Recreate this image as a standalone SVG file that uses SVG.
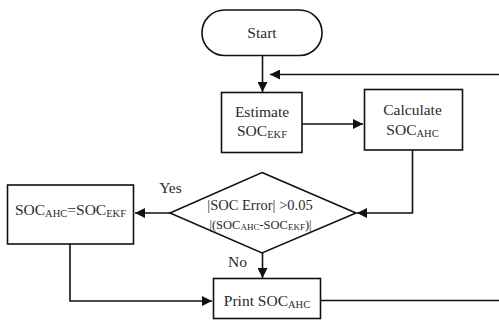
<svg xmlns="http://www.w3.org/2000/svg" width="499" height="320" viewBox="0 0 499 320" font-family="'Liberation Serif', 'DejaVu Serif', serif">
<style>
.shape{fill:#fff;stroke:#111;stroke-width:1.6}
.conn{fill:none;stroke:#111;stroke-width:1.6}
text{font-family:'Liberation Serif','DejaVu Serif',serif;font-size:15.5px;fill:#2a2a2a;text-anchor:middle}
.sub{font-size:10.5px}
.sub2{font-size:9px}
.d1{font-size:14.5px}
.d2{font-size:12.5px}
</style>
<defs>
<marker id="ah" viewBox="0 0 10 10" refX="10" refY="5" markerWidth="10" markerHeight="10" markerUnits="userSpaceOnUse" orient="auto">
<path d="M0,0 L10,5 L0,10 Z" fill="#111"/>
</marker>
</defs>
<rect width="499" height="320" fill="#fff"/>
<g id="connectors">
<line class="conn" x1="262.5" y1="56" x2="262.5" y2="92" marker-end="url(#ah)"/>
<line class="conn" x1="499" y1="74.5" x2="270" y2="74.5" marker-end="url(#ah)"/>
<line class="conn" x1="302" y1="124" x2="363" y2="124" marker-end="url(#ah)"/>
<polyline class="conn" points="412.5,150 412.5,213 357,213" marker-end="url(#ah)"/>
<line class="conn" x1="170" y1="213" x2="135" y2="213" marker-end="url(#ah)"/>
<line class="conn" x1="262.5" y1="253" x2="262.5" y2="278" marker-end="url(#ah)"/>
<polyline class="conn" points="70,244 70,301 212,301" marker-end="url(#ah)"/>
<line class="conn" x1="320.5" y1="300.5" x2="499" y2="300.5"/>
<text x="170.5" y="193">Yes</text>
<text x="237.5" y="266.5">No</text>
</g>
<g id="start">
<rect class="shape" x="202" y="10" width="120" height="45.5" rx="22.5"/>
<text x="262" y="38">Start</text>
</g>
<g id="estimate">
<rect class="shape" x="221.5" y="92.5" width="80.5" height="60"/>
<text x="262" y="116.5">Estimate</text>
<text x="262" y="135.5">SOC<tspan class="sub" dy="2">EKF</tspan></text>
</g>
<g id="calculate">
<rect class="shape" x="364.5" y="89.5" width="98" height="60.5"/>
<text x="412.5" y="115">Calculate</text>
<text x="412.5" y="134.5">SOC<tspan class="sub" dy="2">AHC</tspan></text>
</g>
<g id="decision">
<polygon class="shape" points="262,172.5 356,213 262,253 170,213"/>
<text class="d1" x="260" y="209.5">|SOC Error| &gt;0.05</text>
<text class="d2" x="260.5" y="228.5">|(SOC<tspan class="sub2" dy="1.5">AHC</tspan><tspan dy="-1.5">-SOC</tspan><tspan class="sub2" dy="1.5">EKF</tspan><tspan dy="-1.5">)|</tspan></text>
</g>
<g id="reset">
<rect class="shape" x="7.5" y="185" width="126" height="59"/>
<text x="70.5" y="214.5">SOC<tspan class="sub" dy="2">AHC</tspan><tspan dy="-2">=SOC</tspan><tspan class="sub" dy="2">EKF</tspan></text>
</g>
<g id="print">
<rect class="shape" x="213.5" y="278.5" width="107" height="40"/>
<text x="267" y="306">Print SOC<tspan class="sub" dy="1.5">AHC</tspan></text>
</g>
</svg>
